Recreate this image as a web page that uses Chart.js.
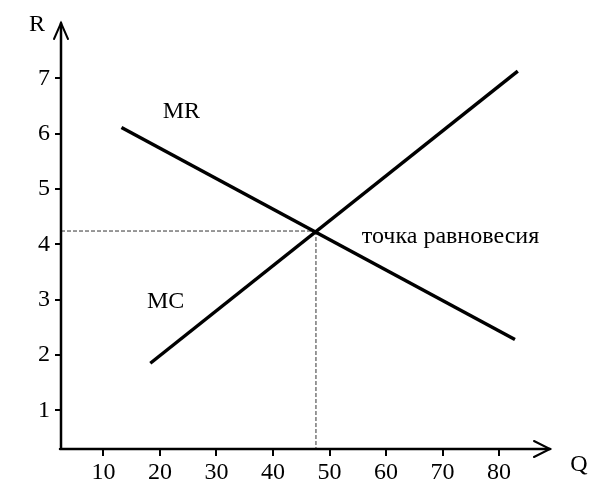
<!DOCTYPE html>
<html>
<head>
<meta charset="utf-8">
<script src="https://cdn.jsdelivr.net/npm/chart.js@4/dist/chart.umd.min.js"></script>
<style>
html,body{margin:0;padding:0;background:#fff;}
#wrap{width:594px;height:500px;}
</style>
</head>
<body>
<div id="wrap"><canvas id="c" width="594" height="500"></canvas></div>
<script>
// ---- data ----
const xTicks = [10, 20, 30, 40, 50, 60, 70, 80];
const yTicks = [1, 2, 3, 4, 5, 6, 7];
const mrQ = [13.2, 82.8];
const mrR = [6.11, 2.28];
const mcQ = [18.3, 83.3];
const mcR = [1.85, 7.13];
const eqQ = [47.6];
const eqR = [4.24];
const xRange = [2.5, 89];
const yRange = [0.3, 8];
const labels = ["MR", "MC", "точка равновесия"];
const labelQ = [23.8, 21, 71.4];
const labelR = [6.4, 2.96, 4.13];
const axisNames = ["R", "Q"];

const FONT = '"Liberation Serif", "Times New Roman", serif';
const pts = (xs, ys) => xs.map((x, i) => ({x: x, y: ys[i]}));

const overlay = {
  id: 'overlay',
  afterDraw(chart) {
    const ctx = chart.ctx;
    const xs = chart.scales.x, ys = chart.scales.y;
    const L = xs.left, R = xs.right, T = ys.top, B = ys.bottom;
    ctx.save();
    ctx.strokeStyle = '#000';
    ctx.lineWidth = 2.5;
    ctx.lineCap = 'round';
    // axes
    ctx.beginPath();
    ctx.moveTo(L, B); ctx.lineTo(L, T);
    ctx.moveTo(L - 1, B); ctx.lineTo(R, B);
    ctx.stroke();
    // arrow heads
    ctx.lineWidth = 2;
    ctx.beginPath();
    ctx.moveTo(L - 7, T + 16); ctx.lineTo(L, T); ctx.lineTo(L + 7, T + 16);
    ctx.moveTo(R - 16, B - 8); ctx.lineTo(R, B); ctx.lineTo(R - 16, B + 8);
    ctx.stroke();
    // text
    ctx.fillStyle = '#000';
    ctx.font = '24px ' + FONT;
    ctx.textAlign = 'center';
    ctx.textBaseline = 'middle';
    ctx.fillText(axisNames[0], L - 24, T + 2);
    ctx.fillText(axisNames[1], R + 29, B + 16);
    labels.forEach((t, i) => {
      ctx.fillText(t, xs.getPixelForValue(labelQ[i]), ys.getPixelForValue(labelR[i]));
    });
    ctx.restore();
  }
};

const solid = {borderColor: '#000', borderWidth: 3.5, pointRadius: 0, showLine: true, fill: false, tension: 0};
const dashed = {borderColor: '#333', borderWidth: 1, borderDash: [4, 2], pointRadius: 0, showLine: true, fill: false};

new Chart(document.getElementById('c'), {
  type: 'scatter',
  data: {
    datasets: [
      Object.assign({label: 'MR', data: pts(mrQ, mrR)}, solid),
      Object.assign({label: 'MC', data: pts(mcQ, mcR)}, solid),
      Object.assign({label: 'h', data: [{x: xRange[0], y: eqR[0]}, {x: eqQ[0], y: eqR[0]}]}, dashed),
      Object.assign({label: 'v', data: [{x: eqQ[0], y: eqR[0]}, {x: eqQ[0], y: yRange[0]}]}, dashed)
    ]
  },
  options: {
    responsive: false,
    animation: false,
    devicePixelRatio: 1,
    layout: {padding: {top: 23, right: 44, left: 0, bottom: 0}},
    plugins: {legend: {display: false}, tooltip: {enabled: false}},
    scales: {
      x: {
        type: 'linear', min: xRange[0], max: xRange[1],
        afterBuildTicks: s => { s.ticks = xTicks.map(v => ({value: v})); },
        afterFit: s => { s.height = 51; },
        grid: {drawOnChartArea: false, color: '#000', lineWidth: 2, tickLength: 7},
        border: {display: false},
        ticks: {color: '#000', font: {family: FONT, size: 24}, padding: 2, maxRotation: 0, autoSkip: false}
      },
      y: {
        type: 'linear', min: yRange[0], max: yRange[1],
        afterBuildTicks: s => { s.ticks = yTicks.map(v => ({value: v})); },
        afterFit: s => { s.width = 61; },
        grid: {drawOnChartArea: false, color: '#000', lineWidth: 2, tickLength: 6},
        border: {display: false},
        ticks: {color: '#000', font: {family: FONT, size: 24}, padding: 5, autoSkip: false}
      }
    }
  },
  plugins: [overlay]
});
</script>
</body>
</html>
